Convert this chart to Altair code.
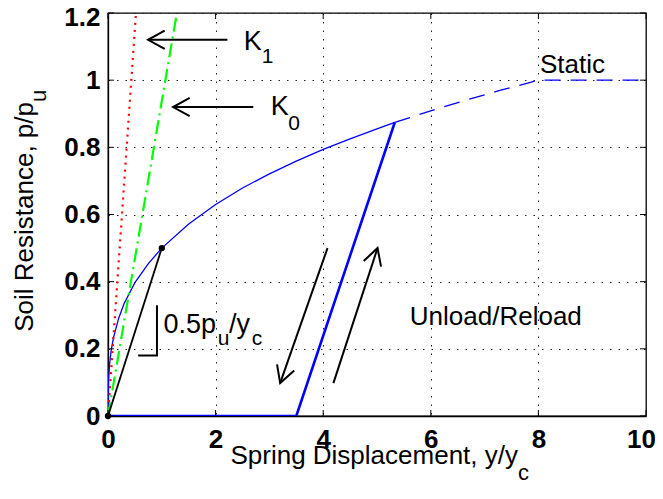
import math
import altair as alt
import pandas as pd

W, H = 538, 403
X_MAX, Y_MAX = 10.0, 1.2
FONT = "Liberation Sans"

# ---- data ----
x_ticks = [0, 2, 4, 6, 8, 10]
y_ticks = [0, 0.2, 0.4, 0.6, 0.8, 1.0, 1.2]

backbone_x = [0, 0.01, 0.03, 0.06, 0.1, 0.2, 0.3, 0.5, 0.75, 1.0, 1.5, 2.0, 2.5, 3.0, 3.5, 4.0, 4.5, 5.0, 5.33]
backbone_y = [0, 0.108, 0.155, 0.196, 0.232, 0.292, 0.335, 0.397, 0.454, 0.5, 0.572, 0.63, 0.679, 0.721, 0.759, 0.794, 0.825, 0.855, 0.874]

static_x = [5.33, 5.75, 6.25, 6.75, 7.25, 7.75, 8.0, 10.0]
static_y = [0.874, 0.896, 0.921, 0.945, 0.968, 0.989, 1.0, 1.0]

unload_x = [0, 3.5, 5.33]
unload_y = [0, 0, 0.874]

secant_x = [0, 1.0]
secant_y = [0, 0.5]

k1_x = [0, 0.52]
k1_y = [0, 1.2]
k0_x = [0, 1.28]
k0_y = [0, 1.2]

slope_x = [0.56, 0.91, 0.91]
slope_y = [0.18, 0.18, 0.33]

arrow_x0 = [2.22, 2.70, 4.08, 4.19]
arrow_y0 = [1.12, 0.92, 0.50, 0.098]
arrow_x1 = [0.745, 1.21, 3.20, 5.01]
arrow_y1 = [1.12, 0.92, 0.098, 0.50]

# labels: main text (right aligned, followed by a subscript) and free text
main_r_text = ["K", "K", "0.5p", "/y"]
main_r_x = [2.86, 3.36, 2.01, 2.64]
main_r_y = [1.090, 0.896, 0.247, 0.247]
sub_text = ["1", "0", "u", "c"]
sub_x = [2.86, 3.35, 2.04, 2.67]
sub_y = [1.051, 0.852, 0.211, 0.211]

free_text = ["Static", "Unload/Reload"]
free_x = [8.03, 5.61]
free_y = [1.021, 0.271]

x_title = "Spring Displacement, y/y"
x_title_sub = "c"
y_title = "Soil Resistance, p/p"
y_title_sub = "u"


def line_df(xv, yv):
    return pd.DataFrame({"x": xv, "y": yv, "o": list(range(len(xv)))})


xs = alt.Scale(domain=[0, X_MAX], nice=False, zero=False)
ys = alt.Scale(domain=[0, Y_MAX], nice=False, zero=False)

X = alt.X("x:Q", scale=xs, axis=alt.Axis(
    values=x_ticks, title=None, format="d",
    labelOffset={"condition": {"test": "datum.value > 9.9", "value": -5}, "value": 0},
))
Y = alt.Y("y:Q", scale=ys, axis=alt.Axis(
    values=y_ticks, title=None, format=".1~f",
    labelOffset={"condition": {"test": "datum.value > 1.19", "value": 4}, "value": 0},
))


def line(xv, yv, color, width, dash=None):
    kw = dict(color=color, strokeWidth=width, clip=True)
    if dash is not None:
        kw["strokeDash"] = dash
    return alt.Chart(line_df(xv, yv)).mark_line(**kw).encode(x=X, y=Y, order="o:Q")


layers = []
layers.append(line(backbone_x, backbone_y, "#0000ff", 1.3))
layers.append(line(static_x, static_y, "#0000ff", 1.3, [16, 10]))
layers.append(line(unload_x, unload_y, "#0000ff", 2.6))
layers.append(line(k1_x, k1_y, "#ff0000", 2.2, [2, 5]))
layers.append(line(k0_x, k0_y, "#00ff00", 2.2, [14, 5, 2, 5]))
layers.append(line(secant_x, secant_y, "#000000", 1.8))
layers.append(line(slope_x, slope_y, "#000000", 2.0))

layers.append(
    alt.Chart(line_df(secant_x, secant_y)).mark_point(filled=True, color="black", size=40, opacity=1).encode(x=X, y=Y)
)

# arrows
angles = []
for a, b, c, d in zip(arrow_x0, arrow_y0, arrow_x1, arrow_y1):
    dxp = (c - a) * W / X_MAX
    dyp = -(d - b) * H / Y_MAX
    angles.append(math.degrees(math.atan2(dyp, dxp)) % 360)
arrows = pd.DataFrame({"x": arrow_x0, "y": arrow_y0, "x2": arrow_x1, "y2": arrow_y1, "ang": angles})
layers.append(
    alt.Chart(arrows).mark_rule(color="black", strokeWidth=2).encode(x=X, y=Y, x2="x2:Q", y2="y2:Q")
)
layers.append(
    alt.Chart(arrows).mark_point(
        shape="M -1 -0.55 L 0 0 L -1 0.55", filled=False, color="black", strokeWidth=2, size=1100, opacity=1
    ).encode(
        x=alt.X("x2:Q", scale=xs), y=alt.Y("y2:Q", scale=ys),
        angle=alt.Angle("ang:Q", scale=None)
    )
)

# inner ticks (MATLAB style box)
xt = pd.DataFrame({"x": x_ticks})
yt = pd.DataFrame({"y": y_ticks})
layers.append(alt.Chart(xt).mark_rule(color="black", strokeWidth=1).encode(x=X, y=alt.value(H), y2=alt.value(H - 6)))
layers.append(alt.Chart(xt).mark_rule(color="black", strokeWidth=1).encode(x=X, y=alt.value(0), y2=alt.value(6)))
layers.append(alt.Chart(yt).mark_rule(color="black", strokeWidth=1).encode(y=Y, x=alt.value(0), x2=alt.value(6)))
layers.append(alt.Chart(yt).mark_rule(color="black", strokeWidth=1).encode(y=Y, x=alt.value(W - 6), x2=alt.value(W)))

# texts
mr = pd.DataFrame({"x": main_r_x, "y": main_r_y, "t": main_r_text})
sb = pd.DataFrame({"x": sub_x, "y": sub_y, "t": sub_text})
fr = pd.DataFrame({"x": free_x, "y": free_y, "t": free_text})
layers.append(alt.Chart(mr).mark_text(align="right", baseline="alphabetic", font=FONT, fontSize=27, color="black").encode(x=X, y=Y, text="t:N"))
layers.append(alt.Chart(sb).mark_text(align="left", baseline="alphabetic", font=FONT, fontSize=21, color="black").encode(x=X, y=Y, text="t:N"))
layers.append(alt.Chart(fr).mark_text(align="left", baseline="alphabetic", font=FONT, fontSize=26, color="black").encode(x=X, y=Y, text="t:N"))

# axis titles with subscripts
layers.append(alt.Chart(pd.DataFrame({"t": [x_title]})).mark_text(align="right", baseline="alphabetic", font=FONT, fontSize=26, color="black").encode(
    x=alt.value(410), y=alt.value(451), text="t:N"))
layers.append(alt.Chart(pd.DataFrame({"t": [x_title_sub]})).mark_text(align="left", baseline="alphabetic", font=FONT, fontSize=22, dy=16, color="black").encode(
    x=alt.value(410), y=alt.value(451), text="t:N"))
layers.append(alt.Chart(pd.DataFrame({"t": [y_title]})).mark_text(align="right", baseline="alphabetic", angle=270, font=FONT, fontSize=26, color="black").encode(
    x=alt.value(-75), y=alt.value(89), text="t:N"))
layers.append(alt.Chart(pd.DataFrame({"t": [y_title_sub]})).mark_text(align="left", baseline="alphabetic", angle=270, font=FONT, fontSize=22, dy=13, color="black").encode(
    x=alt.value(-75), y=alt.value(89), text="t:N"))

chart = alt.layer(*layers).properties(
    width=W, height=H,
    padding={"left": 100, "top": 5, "right": 9, "bottom": 70},
    autosize=alt.AutoSizeParams(type="none"),
).configure_view(
    stroke="black", strokeWidth=1.3
).configure_axis(
    labelFont=FONT, labelFontSize=26, labelFontWeight="bold", labelColor="black",
    labelFlush=False, labelOverlap=False, labelBound=False,
    tickSize=0, domainColor="black", domainWidth=1.3,
    grid=True, gridColor="#222222", gridDash=[1.5, 7], gridWidth=1, gridOpacity=1,
).configure_axisX(labelPadding=10).configure_axisY(labelPadding=8)

chart.save("out.html", embed_options={"renderer": "svg", "actions": False})
